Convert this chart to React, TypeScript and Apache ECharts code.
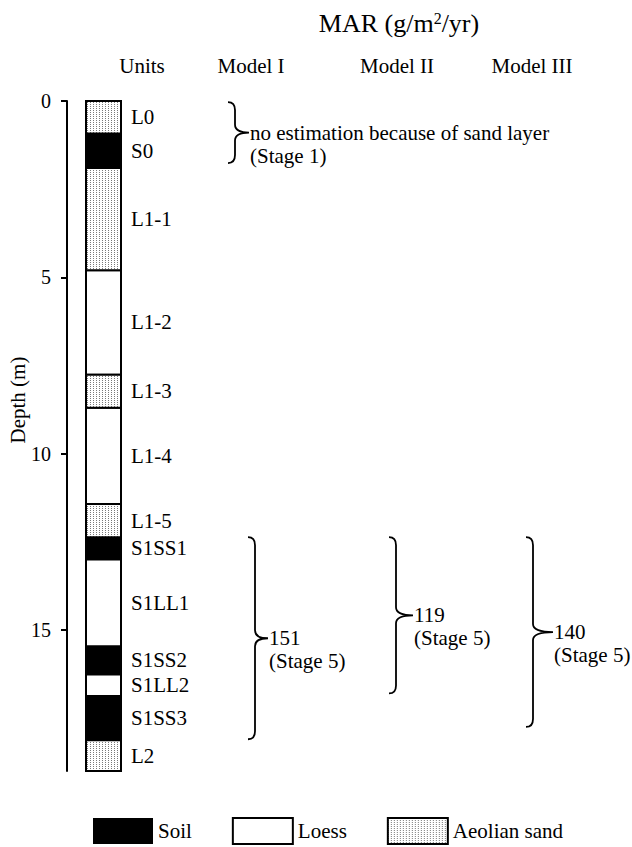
import React, { useEffect, useRef } from "react";
import * as echarts from "echarts";

// ---------- data ----------
const layerNames = ["L0", "S0", "L1-1", "L1-2", "L1-3", "L1-4", "L1-5", "S1SS1", "S1LL1", "S1SS2", "S1LL2", "S1SS3", "L2"];
const layerTops = [0, 0.92, 1.9, 4.8, 7.76, 8.7, 11.43, 12.37, 13.0, 15.46, 16.26, 16.87, 18.13];
const layerBottoms = [0.92, 1.9, 4.8, 7.76, 8.7, 11.43, 12.37, 13.0, 15.46, 16.26, 16.87, 18.13, 19.0];
const layerTypes = ["Aeolian sand", "Soil", "Aeolian sand", "Loess", "Aeolian sand", "Loess", "Aeolian sand", "Soil", "Loess", "Soil", "Loess", "Soil", "Aeolian sand"];
const unitTypes = ["Soil", "Loess", "Aeolian sand"];
const depthTicks = [0, 5, 10, 15];

const models = ["Model I", "Model II", "Model III"];
const marValues = [151, 119, 140];
const marStages = ["Stage 5", "Stage 5", "Stage 5"];
const marTops = [12.37, 12.37, 12.37];
const marBottoms = [18.1, 16.8, 17.75];

const noteText = "no estimation because of sand layer";
const noteStage = "Stage 1";
const noteTop = 0.03;
const noteBottom = 1.76;

// ---------- layout constants ----------
const FONT = "'Liberation Serif', 'Times New Roman', serif";
const COL_OFFSET = 19;
const COL_WIDTH = 35;
const LABEL_OFFSET = 64;
const MODEL_HEADER_X = [251, 397, 532];
const MODEL_BRACE_X = [255, 396, 533];
const MODEL_TIP = [13, 17, 20];
const NOTE_BRACE_X = 235;
const NOTE_TIP = 14;

function makeDots(): string {
  const c = document.createElement("canvas");
  c.width = 3;
  c.height = 2;
  const ctx = c.getContext("2d")!;
  ctx.fillStyle = "#ffffff";
  ctx.fillRect(0, 0, 3, 2);
  ctx.fillStyle = "#7a7a7a";
  ctx.fillRect(0, 0, 1, 1);
  return c.toDataURL();
}

function bracePath(sx: number, y1: number, y2: number, tip: number): string {
  const h = 7;
  const r = 8;
  const ym = (y1 + y2) / 2;
  return [
    `M ${sx - h} ${y1}`,
    `Q ${sx} ${y1} ${sx} ${y1 + r}`,
    `L ${sx} ${ym - r}`,
    `Q ${sx} ${ym} ${sx + tip} ${ym}`,
    `Q ${sx} ${ym} ${sx} ${ym + r}`,
    `L ${sx} ${y2 - r}`,
    `Q ${sx} ${y2} ${sx - h} ${y2}`,
  ].join(" ");
}

export default function App() {
  const ref = useRef<HTMLDivElement>(null);
  useEffect(() => {
    document.body.style.margin = "0";
    if (!ref.current) return;
    const chart = echarts.init(ref.current, undefined, { renderer: "svg" });
    const dots = { image: makeDots(), repeat: "repeat", imageWidth: 3, imageHeight: 2 };
    const fills: Record<string, any> = { Soil: "#000000", Loess: "#ffffff", "Aeolian sand": dots };

    const layerSeries = unitTypes.map((t) => ({
      type: "custom",
      name: t,
      coordinateSystem: "cartesian2d",
      itemStyle: { color: t === "Aeolian sand" ? "#dddddd" : fills[t] },
      encode: { x: 0, y: [1, 2] },
      data: layerNames
        .map((n, i) => [0, layerTops[i], layerBottoms[i], i])
        .filter((d) => layerTypes[d[3] as number] === t),
      renderItem: (params: any, api: any) => {
        const p1 = api.coord([0, api.value(1)]);
        const p2 = api.coord([0, api.value(2)]);
        const idx = api.value(3);
        return {
          type: "group",
          children: [
            {
              type: "rect",
              shape: { x: p1[0] + COL_OFFSET, y: p1[1], width: COL_WIDTH, height: p2[1] - p1[1] },
              style: { fill: fills[t], stroke: "#000", lineWidth: 2 },
            },
            {
              type: "text",
              x: p1[0] + LABEL_OFFSET,
              y: (p1[1] + p2[1]) / 2,
              style: {
                text: layerNames[idx],
                fontSize: 21,
                fontFamily: FONT,
                fill: "#000",
                align: "left",
                verticalAlign: "middle",
              },
            },
          ],
        };
      },
    }));

    const braceData = [
      [0, noteTop, noteBottom, -1],
      ...models.map((m, i) => [0, marTops[i], marBottoms[i], i]),
    ];

    const braceSeries = {
      type: "custom",
      name: "MAR",
      coordinateSystem: "cartesian2d",
      encode: { x: 0, y: [1, 2] },
      data: braceData,
      renderItem: (params: any, api: any) => {
        const y1 = api.coord([0, api.value(1)])[1];
        const y2 = api.coord([0, api.value(2)])[1];
        const idx = api.value(3);
        const sx = idx < 0 ? NOTE_BRACE_X : MODEL_BRACE_X[idx];
        const tip = idx < 0 ? NOTE_TIP : MODEL_TIP[idx];
        const txt = idx < 0 ? `${noteText}\n(${noteStage})` : `${marValues[idx]}\n(${marStages[idx]})`;
        const ym = (y1 + y2) / 2;
        const lh = 23;
        return {
          type: "group",
          children: [
            {
              type: "path",
              shape: { pathData: bracePath(sx, y1, y2, tip) },
              style: { fill: "none", stroke: "#000", lineWidth: 1.8 },
            },
            {
              type: "text",
              x: sx + tip + 1,
              y: ym - lh / 2,
              style: {
                text: txt,
                fontSize: 21,
                lineHeight: lh,
                fontFamily: FONT,
                fill: "#000",
                align: "left",
                verticalAlign: "top",
              },
            },
          ],
        };
      },
    };

    const headerY = 66;
    const graphic: any[] = [
      {
        type: "text",
        x: 399,
        y: 23,
        style: {
          text: "{a|MAR (g/m}{s|2}{a|/yr)}",
          rich: {
            a: { fontSize: 26, fontFamily: FONT, fill: "#000" },
            s: { fontSize: 16, fontFamily: FONT, fill: "#000", verticalAlign: "top" },
          },
          align: "center",
          verticalAlign: "middle",
        },
      },
      {
        type: "text",
        x: 142,
        y: headerY,
        style: { text: "Units", fontSize: 21, fontFamily: FONT, fill: "#000", align: "center", verticalAlign: "middle" },
      },
      ...models.map((m, i) => ({
        type: "text",
        x: MODEL_HEADER_X[i],
        y: headerY,
        style: { text: m, fontSize: 21, fontFamily: FONT, fill: "#000", align: "center", verticalAlign: "middle" },
      })),
      {
        type: "text",
        x: 18,
        y: 400,
        rotation: Math.PI / 2,
        style: { text: "Depth (m)", fontSize: 21, fontFamily: FONT, fill: "#000", align: "center", verticalAlign: "middle" },
      },
    ];

    chart.setOption({
      animation: false,
      textStyle: { fontFamily: FONT, color: "#000" },
      grid: { left: 67, top: 101, height: 670, right: 0 },
      xAxis: { type: "value", min: 0, max: 1, show: false },
      yAxis: {
        type: "value",
        inverse: true,
        min: 0,
        max: 19,
        interval: 5,
        axisLine: { show: true, lineStyle: { color: "#000", width: 2 } },
        axisTick: { show: true, length: 6, lineStyle: { color: "#000", width: 2 }, customValues: depthTicks },
        axisLabel: { fontSize: 20, color: "#000", margin: 16, fontFamily: FONT, customValues: depthTicks },
        splitLine: { show: false },
      },
      legend: {
        left: 93,
        top: 817,
        padding: 0,
        icon: "rect",
        itemWidth: 60,
        itemHeight: 26,
        itemGap: 40,
        selectedMode: false,
        textStyle: { fontSize: 21, fontFamily: FONT, color: "#000" },
        data: [
          { name: "Soil", itemStyle: { color: "#000", borderColor: "#000", borderWidth: 0 } },
          { name: "Loess", itemStyle: { color: "#fff", borderColor: "#000", borderWidth: 2 } },
          { name: "Aeolian sand", itemStyle: { color: dots, borderColor: "#000", borderWidth: 2 } },
        ],
      },
      graphic,
      series: [...layerSeries, braceSeries],
    });
    return () => chart.dispose();
  }, []);
  return <div ref={ref} style={{ width: 632, height: 847 }} />;
}
